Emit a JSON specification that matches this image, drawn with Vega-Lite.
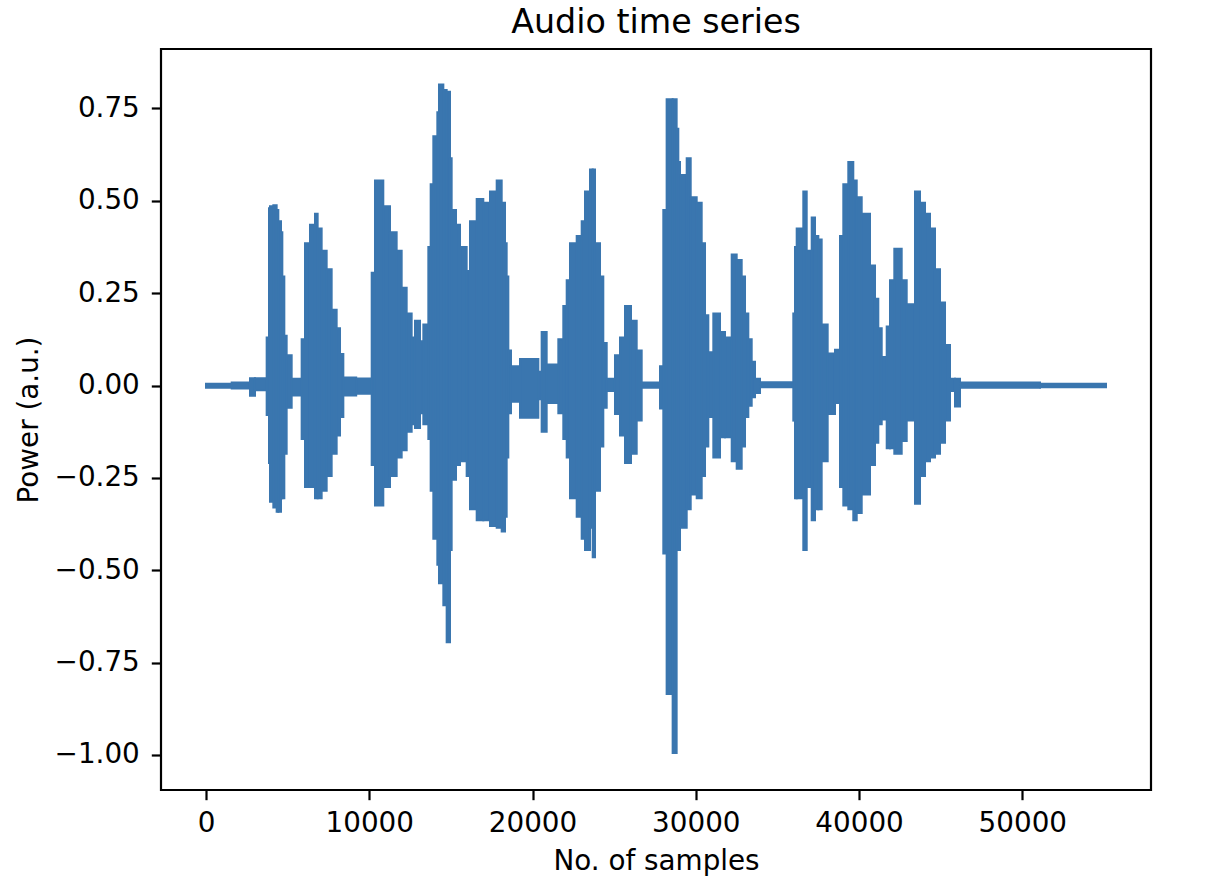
{
  "$schema": "https://vega.github.io/schema/vega-lite/v6.json",
  "width": 990,
  "height": 741,
  "autosize": {"type": "none"},
  "padding": {"left": 161, "top": 49, "right": 63, "bottom": 100},
  "background": "white",
  "title": {"text": "Audio time series", "font": "DejaVu Sans", "fontSize": 33.3, "fontWeight": "normal", "color": "#000000", "anchor": "middle", "frame": "group", "baseline": "alphabetic", "offset": 17, "dy": 34},
  "data": {"values": [
    {"start": 0, "end": 1574, "hi": 0.005, "lo": -0.006},
    {"start": 1574, "end": 2695, "hi": 0.008, "lo": -0.008},
    {"start": 2695, "end": 3001, "hi": 0.02, "lo": -0.028},
    {"start": 3001, "end": 3716, "hi": 0.02, "lo": -0.013},
    {"start": 3716, "end": 3859, "hi": 0.13, "lo": -0.08},
    {"start": 3859, "end": 3920, "hi": 0.48, "lo": -0.21},
    {"start": 3920, "end": 4124, "hi": 0.485, "lo": -0.315},
    {"start": 4124, "end": 4328, "hi": 0.488, "lo": -0.33},
    {"start": 4328, "end": 4430, "hi": 0.475, "lo": -0.342},
    {"start": 4430, "end": 4594, "hi": 0.445, "lo": -0.342},
    {"start": 4594, "end": 4676, "hi": 0.415, "lo": -0.305},
    {"start": 4676, "end": 4798, "hi": 0.295, "lo": -0.305},
    {"start": 4798, "end": 4941, "hi": 0.135, "lo": -0.185},
    {"start": 4941, "end": 5248, "hi": 0.082, "lo": -0.06},
    {"start": 5248, "end": 5859, "hi": 0.018, "lo": -0.027},
    {"start": 5859, "end": 6064, "hi": 0.125, "lo": -0.145},
    {"start": 6064, "end": 6370, "hi": 0.385, "lo": -0.275},
    {"start": 6370, "end": 6676, "hi": 0.435, "lo": -0.275},
    {"start": 6676, "end": 6839, "hi": 0.465, "lo": -0.305},
    {"start": 6839, "end": 7084, "hi": 0.425, "lo": -0.305},
    {"start": 7084, "end": 7391, "hi": 0.365, "lo": -0.285},
    {"start": 7391, "end": 7697, "hi": 0.315, "lo": -0.245},
    {"start": 7697, "end": 8003, "hi": 0.205, "lo": -0.185},
    {"start": 8003, "end": 8208, "hi": 0.155, "lo": -0.135},
    {"start": 8208, "end": 8412, "hi": 0.085, "lo": -0.085},
    {"start": 8412, "end": 9200, "hi": 0.022, "lo": -0.027},
    {"start": 9200, "end": 10149, "hi": 0.019, "lo": -0.022},
    {"start": 10149, "end": 10351, "hi": 0.305, "lo": -0.215},
    {"start": 10351, "end": 10860, "hi": 0.555, "lo": -0.325},
    {"start": 10860, "end": 11270, "hi": 0.485, "lo": -0.275},
    {"start": 11270, "end": 11678, "hi": 0.415, "lo": -0.245},
    {"start": 11678, "end": 11985, "hi": 0.365, "lo": -0.195},
    {"start": 11985, "end": 12291, "hi": 0.265, "lo": -0.175},
    {"start": 12291, "end": 12597, "hi": 0.195, "lo": -0.125},
    {"start": 12597, "end": 12801, "hi": 0.13, "lo": -0.105},
    {"start": 12801, "end": 13108, "hi": 0.175, "lo": -0.115},
    {"start": 13108, "end": 13312, "hi": 0.12, "lo": -0.075},
    {"start": 13312, "end": 13618, "hi": 0.165, "lo": -0.105},
    {"start": 13618, "end": 13761, "hi": 0.375, "lo": -0.145},
    {"start": 13761, "end": 13924, "hi": 0.545, "lo": -0.285},
    {"start": 13924, "end": 14169, "hi": 0.675, "lo": -0.415},
    {"start": 14169, "end": 14271, "hi": 0.74, "lo": -0.485},
    {"start": 14271, "end": 14537, "hi": 0.815, "lo": -0.535},
    {"start": 14537, "end": 14741, "hi": 0.8, "lo": -0.595},
    {"start": 14741, "end": 14945, "hi": 0.795, "lo": -0.695},
    {"start": 14945, "end": 15047, "hi": 0.615, "lo": -0.445},
    {"start": 15047, "end": 15313, "hi": 0.475, "lo": -0.255},
    {"start": 15313, "end": 15558, "hi": 0.435, "lo": -0.215},
    {"start": 15558, "end": 15966, "hi": 0.375, "lo": -0.205},
    {"start": 15966, "end": 16170, "hi": 0.31, "lo": -0.245},
    {"start": 16170, "end": 16580, "hi": 0.445, "lo": -0.335},
    {"start": 16580, "end": 16985, "hi": 0.505, "lo": -0.365},
    {"start": 16985, "end": 17395, "hi": 0.495, "lo": -0.365},
    {"start": 17395, "end": 17805, "hi": 0.525, "lo": -0.38},
    {"start": 17805, "end": 18111, "hi": 0.555, "lo": -0.385},
    {"start": 18111, "end": 18314, "hi": 0.495, "lo": -0.395},
    {"start": 18314, "end": 18416, "hi": 0.385, "lo": -0.355},
    {"start": 18416, "end": 18518, "hi": 0.295, "lo": -0.195},
    {"start": 18518, "end": 18681, "hi": 0.095, "lo": -0.075},
    {"start": 18681, "end": 19233, "hi": 0.052, "lo": -0.044},
    {"start": 19233, "end": 20355, "hi": 0.072, "lo": -0.087},
    {"start": 20355, "end": 20559, "hi": 0.037, "lo": -0.037},
    {"start": 20559, "end": 20866, "hi": 0.145, "lo": -0.125},
    {"start": 20866, "end": 21580, "hi": 0.057, "lo": -0.047},
    {"start": 21580, "end": 21885, "hi": 0.125, "lo": -0.075},
    {"start": 21885, "end": 22093, "hi": 0.215, "lo": -0.145},
    {"start": 22093, "end": 22295, "hi": 0.285, "lo": -0.195},
    {"start": 22295, "end": 22705, "hi": 0.385, "lo": -0.305},
    {"start": 22705, "end": 23011, "hi": 0.405, "lo": -0.355},
    {"start": 23011, "end": 23214, "hi": 0.445, "lo": -0.415},
    {"start": 23214, "end": 23520, "hi": 0.525, "lo": -0.445},
    {"start": 23520, "end": 23686, "hi": 0.585, "lo": -0.385},
    {"start": 23686, "end": 23826, "hi": 0.585, "lo": -0.465},
    {"start": 23826, "end": 24133, "hi": 0.385, "lo": -0.285},
    {"start": 24133, "end": 24335, "hi": 0.295, "lo": -0.165},
    {"start": 24335, "end": 24543, "hi": 0.115, "lo": -0.06},
    {"start": 24543, "end": 25051, "hi": 0.018, "lo": -0.015},
    {"start": 25051, "end": 25358, "hi": 0.082, "lo": -0.077},
    {"start": 25358, "end": 25664, "hi": 0.13, "lo": -0.135},
    {"start": 25664, "end": 26031, "hi": 0.215, "lo": -0.21},
    {"start": 26031, "end": 26380, "hi": 0.175, "lo": -0.185},
    {"start": 26380, "end": 26686, "hi": 0.095, "lo": -0.095},
    {"start": 26686, "end": 27808, "hi": 0.008, "lo": -0.006},
    {"start": 27808, "end": 28010, "hi": 0.052, "lo": -0.062},
    {"start": 28010, "end": 28214, "hi": 0.475, "lo": -0.455},
    {"start": 28214, "end": 28582, "hi": 0.775, "lo": -0.835},
    {"start": 28582, "end": 28827, "hi": 0.775, "lo": -0.995},
    {"start": 28827, "end": 28930, "hi": 0.695, "lo": -0.445},
    {"start": 28930, "end": 29033, "hi": 0.605, "lo": -0.445},
    {"start": 29033, "end": 29443, "hi": 0.57, "lo": -0.385},
    {"start": 29443, "end": 29688, "hi": 0.615, "lo": -0.335},
    {"start": 29688, "end": 30055, "hi": 0.51, "lo": -0.295},
    {"start": 30055, "end": 30361, "hi": 0.495, "lo": -0.305},
    {"start": 30361, "end": 30564, "hi": 0.385, "lo": -0.245},
    {"start": 30564, "end": 30767, "hi": 0.19, "lo": -0.165},
    {"start": 30767, "end": 31073, "hi": 0.09, "lo": -0.085},
    {"start": 31073, "end": 31483, "hi": 0.195, "lo": -0.195},
    {"start": 31483, "end": 31789, "hi": 0.145, "lo": -0.14},
    {"start": 31789, "end": 32199, "hi": 0.13, "lo": -0.14},
    {"start": 32199, "end": 32505, "hi": 0.355, "lo": -0.205},
    {"start": 32505, "end": 32811, "hi": 0.34, "lo": -0.225},
    {"start": 32811, "end": 33014, "hi": 0.295, "lo": -0.165},
    {"start": 33014, "end": 33217, "hi": 0.195, "lo": -0.085},
    {"start": 33217, "end": 33424, "hi": 0.125, "lo": -0.055},
    {"start": 33424, "end": 33626, "hi": 0.064, "lo": -0.032},
    {"start": 33626, "end": 33933, "hi": 0.018, "lo": -0.02},
    {"start": 33933, "end": 35972, "hi": 0.009, "lo": -0.005},
    {"start": 35972, "end": 36076, "hi": 0.195, "lo": -0.095},
    {"start": 36076, "end": 36180, "hi": 0.375, "lo": -0.305},
    {"start": 36180, "end": 36585, "hi": 0.425, "lo": -0.305},
    {"start": 36585, "end": 36793, "hi": 0.525, "lo": -0.445},
    {"start": 36793, "end": 37099, "hi": 0.365, "lo": -0.275},
    {"start": 37099, "end": 37301, "hi": 0.455, "lo": -0.365},
    {"start": 37301, "end": 37505, "hi": 0.405, "lo": -0.335},
    {"start": 37505, "end": 37710, "hi": 0.395, "lo": -0.335},
    {"start": 37710, "end": 38078, "hi": 0.165, "lo": -0.205},
    {"start": 38078, "end": 38526, "hi": 0.087, "lo": -0.077},
    {"start": 38526, "end": 38833, "hi": 0.097, "lo": -0.047},
    {"start": 38833, "end": 39035, "hi": 0.405, "lo": -0.275},
    {"start": 39035, "end": 39341, "hi": 0.545, "lo": -0.325},
    {"start": 39341, "end": 39647, "hi": 0.605, "lo": -0.335},
    {"start": 39647, "end": 39856, "hi": 0.555, "lo": -0.365},
    {"start": 39856, "end": 40162, "hi": 0.51, "lo": -0.345},
    {"start": 40162, "end": 40670, "hi": 0.465, "lo": -0.295},
    {"start": 40670, "end": 40976, "hi": 0.325, "lo": -0.215},
    {"start": 40976, "end": 41179, "hi": 0.235, "lo": -0.155},
    {"start": 41179, "end": 41387, "hi": 0.155, "lo": -0.105},
    {"start": 41387, "end": 41693, "hi": 0.077, "lo": -0.092},
    {"start": 41693, "end": 41895, "hi": 0.16, "lo": -0.17},
    {"start": 41895, "end": 42159, "hi": 0.285, "lo": -0.17},
    {"start": 42159, "end": 42611, "hi": 0.37, "lo": -0.185},
    {"start": 42611, "end": 42918, "hi": 0.285, "lo": -0.15},
    {"start": 42918, "end": 43426, "hi": 0.22, "lo": -0.095},
    {"start": 43426, "end": 43733, "hi": 0.525, "lo": -0.32},
    {"start": 43733, "end": 44039, "hi": 0.495, "lo": -0.245},
    {"start": 44039, "end": 44345, "hi": 0.465, "lo": -0.205},
    {"start": 44345, "end": 44651, "hi": 0.425, "lo": -0.195},
    {"start": 44651, "end": 44958, "hi": 0.315, "lo": -0.185},
    {"start": 44958, "end": 45264, "hi": 0.225, "lo": -0.155},
    {"start": 45264, "end": 45570, "hi": 0.11, "lo": -0.095},
    {"start": 45570, "end": 45876, "hi": 0.018, "lo": -0.015},
    {"start": 45876, "end": 46183, "hi": 0.018, "lo": -0.057},
    {"start": 46183, "end": 51083, "hi": 0.008, "lo": -0.006},
    {"start": 51083, "end": 55125, "hi": 0.005, "lo": -0.005}
  ]},
  "mark": {"type": "rect", "color": "#3a76af", "opacity": 1, "stroke": "#3a76af", "strokeWidth": 2},
  "encoding": {
    "x": {
      "field": "start", "type": "quantitative",
      "scale": {"domain": [-2756, 57881], "nice": false, "zero": false},
      "axis": {"values": [0, 10000, 20000, 30000, 40000, 50000], "format": "d", "title": "No. of samples",
               "labelBaseline": "alphabetic", "labelPadding": 31.3,
               "titleBaseline": "alphabetic", "titleY": 79, "titleX": 495, "titleAlign": "center", "titleAnchor": null}
    },
    "x2": {"field": "end"},
    "y": {
      "field": "hi", "type": "quantitative",
      "scale": {"domain": [-1.095, 0.911], "nice": false, "zero": false},
      "axis": {"values": [-1, -0.75, -0.5, -0.25, 0, 0.25, 0.5, 0.75], "format": ".2f", "title": "Power (a.u.)",
               "labelPadding": 12, "labelBaseline": "middle",
               "titleX": -124, "titleY": 370.5, "titleAngle": -90, "titleBaseline": "alphabetic", "titleAlign": "center", "titleAnchor": null}
    },
    "y2": {"field": "lo"}
  },
  "config": {
    "view": {"stroke": "#000000", "strokeWidth": 2.2},
    "axis": {"domain": false, "grid": false, "ticks": true, "tickColor": "#000000", "tickWidth": 2.2, "tickSize": 9.7,
             "labelFont": "DejaVu Sans", "labelFontSize": 27.8, "labelColor": "#000000", "labelFlush": false, "labelOverlap": false,
             "titleFont": "DejaVu Sans", "titleFontSize": 27.8, "titleFontWeight": "normal", "titleColor": "#000000"}
  }
}
